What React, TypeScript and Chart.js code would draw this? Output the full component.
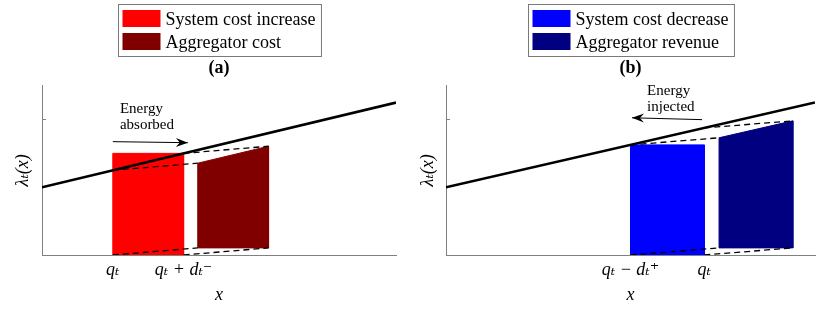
import { useEffect, useRef } from 'react';
import { Chart, registerables } from 'chart.js';

Chart.register(...registerables);

const SERIF = "'Liberation Serif', 'DejaVu Serif', serif";

// shared axes
const X_MIN = 0;
const X_MAX = 10;
const Y_MIN = 0;
const Y_MAX = 10;
const yTickValues = [8];
const xAxisLabel = 'x';
const yAxisLabel = 'λₜ(x)';

// marginal price curve λ_t(x)
const priceX = [0, 10];
const priceY = [4, 9];

// ---------- panel (a) ----------
const aTitle = '(a)';
const aLegendLabels = ['System cost increase', 'Aggregator cost'];
const aColors = ['#ff0000', '#800000'];
const aTickValues = [2, 4];
const aTickLabels = ['qₜ', 'qₜ + dₜ⁻'];
const aSystemX = [2, 2, 4, 4, 2];
const aSystemY = [0, 6, 6, 0, 0];
const aAggX = [4.4, 4.4, 6.4, 6.4, 4.4];
const aAggY = [0.42, 5.42, 6.42, 0.42, 0.42];
const aDashFromX = [2, 4, 2, 4];
const aDashFromY = [5, 6, 0, 0];
const aDashToX = [4.4, 6.4, 4.4, 6.4];
const aDashToY = [5.42, 6.42, 0.42, 0.42];
const aNoteLines = ['Energy', 'absorbed'];
const aNoteX = 2.2;
const aNoteY = 8.4;
const aArrowX = [2.0, 4.12];
const aArrowY = [6.69, 6.63];

// ---------- panel (b) ----------
const bTitle = '(b)';
const bLegendLabels = ['System cost decrease', 'Aggregator revenue'];
const bColors = ['#0000ff', '#000080'];
const bTickValues = [5, 7];
const bTickLabels = ['qₜ − dₜ⁺', 'qₜ'];
const bSystemX = [5, 5, 7, 7, 5];
const bSystemY = [0, 6.5, 6.5, 0, 0];
const bAggX = [7.4, 7.4, 9.4, 9.4, 7.4];
const bAggY = [0.42, 6.92, 7.92, 0.42, 0.42];
const bDashFromX = [5, 7, 5, 7];
const bDashFromY = [6.5, 7.5, 0, 0];
const bDashToX = [7.4, 9.4, 7.4, 9.4];
const bDashToY = [6.92, 7.92, 0.42, 0.42];
const bNoteLines = ['Energy', 'injected'];
const bNoteX = 5.45;
const bNoteY = 9.47;
const bArrowX = [6.94, 5.04];
const bArrowY = [7.99, 8.1];

type PanelDef = {
  title: string;
  legendLabels: string[];
  colors: string[];
  tickValues: number[];
  tickLabels: string[];
  sysX: number[];
  sysY: number[];
  aggX: number[];
  aggY: number[];
  dFromX: number[];
  dFromY: number[];
  dToX: number[];
  dToY: number[];
  noteLines: string[];
  noteX: number;
  noteY: number;
  arrowX: number[];
  arrowY: number[];
  yAxisWidth: number;
  padRight: number;
  yTitlePad: number;
};

const panels: PanelDef[] = [
  {
    title: aTitle, legendLabels: aLegendLabels, colors: aColors, tickValues: aTickValues, tickLabels: aTickLabels,
    sysX: aSystemX, sysY: aSystemY, aggX: aAggX, aggY: aAggY,
    dFromX: aDashFromX, dFromY: aDashFromY, dToX: aDashToX, dToY: aDashToY,
    noteLines: aNoteLines, noteX: aNoteX, noteY: aNoteY, arrowX: aArrowX, arrowY: aArrowY,
    yAxisWidth: 42, padRight: 19, yTitlePad: 12,
  },
  {
    title: bTitle, legendLabels: bLegendLabels, colors: bColors, tickValues: bTickValues, tickLabels: bTickLabels,
    sysX: bSystemX, sysY: bSystemY, aggX: bAggX, aggY: bAggY,
    dFromX: bDashFromX, dFromY: bDashFromY, dToX: bDashToX, dToY: bDashToY,
    noteLines: bNoteLines, noteX: bNoteX, noteY: bNoteY, arrowX: bArrowX, arrowY: bArrowY,
    yAxisWidth: 31, padRight: 15, yTitlePad: 2,
  },
];

const zip = (xs: number[], ys: number[]) => xs.map((x, i) => ({ x, y: ys[i] }));

const boxLegend = {
  id: 'boxLegend',
  afterDraw(chart: any, _args: any, opts: any) {
    const { ctx, chartArea } = chart;
    const labels: string[] = opts.labels;
    const colors: string[] = opts.colors;
    ctx.save();
    ctx.font = `18px ${SERIF}`;
    const tw = Math.max(...labels.map((l) => ctx.measureText(l).width));
    const sw = 38, sh = 17, padL = 4, gap = 5, padR = 6, padT = 6, rowH = 23, top = 4;
    const w = padL + sw + gap + tw + padR;
    const h = padT + rowH * (labels.length - 1) + sh + 6;
    const cx = (chartArea.left + chartArea.right) / 2;
    const x0 = Math.round(cx - w / 2) + 0.5;
    ctx.fillStyle = '#ffffff';
    ctx.fillRect(x0, top + 0.5, w, h);
    ctx.strokeStyle = '#7a7a7a';
    ctx.lineWidth = 1;
    ctx.strokeRect(x0, top + 0.5, w, h);
    labels.forEach((l, i) => {
      const ry = top + padT + i * rowH;
      ctx.fillStyle = colors[i];
      ctx.fillRect(x0 + padL, ry, sw, sh);
      ctx.fillStyle = '#000';
      ctx.textBaseline = 'alphabetic';
      ctx.textAlign = 'left';
      ctx.fillText(l, x0 + padL + sw + gap, ry + 15);
    });
    ctx.restore();
  },
};

const notes = {
  id: 'notes',
  afterDatasetsDraw(chart: any, _args: any, opts: any) {
    const { ctx, scales } = chart;
    const xs = scales.x;
    const ys = scales.y;
    ctx.save();
    // y tick marks (inside)
    ctx.strokeStyle = '#808080';
    ctx.lineWidth = 1;
    yTickValues.forEach((v) => {
      const py = Math.round(ys.getPixelForValue(v)) + 0.5;
      ctx.beginPath();
      ctx.moveTo(chart.chartArea.left, py);
      ctx.lineTo(chart.chartArea.left + 4, py);
      ctx.stroke();
    });
    // annotation text
    ctx.fillStyle = '#000';
    ctx.font = `15px ${SERIF}`;
    ctx.textAlign = 'left';
    ctx.textBaseline = 'alphabetic';
    const tx = xs.getPixelForValue(opts.noteX);
    const ty = ys.getPixelForValue(opts.noteY);
    (opts.noteLines as string[]).forEach((l, i) => ctx.fillText(l, tx, ty + i * 16));
    // arrow head
    const x1 = xs.getPixelForValue(opts.arrowX[0]);
    const y1 = ys.getPixelForValue(opts.arrowY[0]);
    const x2 = xs.getPixelForValue(opts.arrowX[1]);
    const y2 = ys.getPixelForValue(opts.arrowY[1]);
    const ang = Math.atan2(y2 - y1, x2 - x1);
    const L = 12, W = 4.5, N = 8;
    const ux = Math.cos(ang), uy = Math.sin(ang);
    const px = -uy, py = ux;
    ctx.beginPath();
    ctx.moveTo(x2, y2);
    ctx.lineTo(x2 - ux * L + px * W, y2 - uy * L + py * W);
    ctx.lineTo(x2 - ux * N, y2 - uy * N);
    ctx.lineTo(x2 - ux * L - px * W, y2 - uy * L - py * W);
    ctx.closePath();
    ctx.fill();
    ctx.restore();
  },
};

function Panel({ p }: { p: PanelDef }) {
  const ref = useRef<HTMLCanvasElement | null>(null);
  useEffect(() => {
    if (!ref.current) return;
    const datasets: any[] = [
      {
        label: p.legendLabels[0], data: zip(p.sysX, p.sysY), backgroundColor: p.colors[0], borderColor: p.colors[0],
        borderWidth: 1, fill: 'shape', order: 3,
      },
      {
        label: p.legendLabels[1], data: zip(p.aggX, p.aggY), backgroundColor: p.colors[1], borderColor: p.colors[1],
        borderWidth: 1, fill: 'shape', order: 3,
      },
      ...p.dFromX.map((fx, i) => ({
        label: 'dash' + i,
        data: [{ x: fx, y: p.dFromY[i] }, { x: p.dToX[i], y: p.dToY[i] }],
        borderColor: '#000', borderWidth: 1.3, borderDash: [6, 4], fill: false, order: 1,
      })),
      { label: 'λ', data: zip(priceX, priceY), borderColor: '#000', borderWidth: 2.6, fill: false, order: 0 },
      { label: 'arrow', data: zip(p.arrowX, p.arrowY), borderColor: '#000', borderWidth: 1, fill: false, order: 0 },
    ];
    const chart = new Chart(ref.current, {
      type: 'line',
      data: { datasets },
      plugins: [boxLegend, notes],
      options: {
        responsive: false,
        animation: false,
        events: [],
        layout: { padding: { left: 0, right: p.padRight, top: 58, bottom: 0 } },
        elements: { point: { radius: 0, hoverRadius: 0 }, line: { tension: 0 } },
        plugins: {
          legend: { display: false },
          tooltip: { enabled: false },
          title: {
            display: true, text: p.title, fullSize: false, color: '#000',
            font: { family: SERIF, size: 18, weight: 'bold' }, padding: { top: 0, bottom: 6 },
          },
          boxLegend: { labels: p.legendLabels, colors: p.colors },
          notes: { noteLines: p.noteLines, noteX: p.noteX, noteY: p.noteY, arrowX: p.arrowX, arrowY: p.arrowY },
        } as any,
        scales: {
          x: {
            type: 'linear', min: X_MIN, max: X_MAX,
            afterBuildTicks: (s: any) => { s.ticks = p.tickValues.map((v) => ({ value: v })); },
            afterFit: (s: any) => { s.height = 58; },
            grid: { display: false, drawTicks: false },
            border: { display: true, color: '#808080', width: 1 },
            ticks: {
              autoSkip: false, maxRotation: 0, padding: 4, color: '#000',
              font: { family: SERIF, size: 18, style: 'italic' },
              callback: (_v: any, i: number) => p.tickLabels[i],
            },
            title: {
              display: true, text: xAxisLabel, color: '#000',
              font: { family: SERIF, size: 18, style: 'italic' }, padding: { top: 0, bottom: 7 },
            },
          },
          y: {
            type: 'linear', min: Y_MIN, max: Y_MAX,
            afterFit: (s: any) => { s.width = p.yAxisWidth; },
            ticks: { display: false },
            grid: { display: false, drawTicks: false },
            border: { display: true, color: '#808080', width: 1 },
            title: {
              display: true, text: yAxisLabel, color: '#000',
              font: { family: SERIF, size: 18, style: 'italic' }, padding: { top: p.yTitlePad, bottom: 0 },
            },
          },
        } as any,
      },
    });
    return () => chart.destroy();
  }, [p]);
  return (
    <div style={{ width: 415, height: 313, position: 'relative' }}>
      <canvas ref={ref} width={415} height={313} style={{ display: 'block' }} />
    </div>
  );
}

export default function App() {
  return (
    <div style={{ position: 'fixed', left: 0, top: 0, width: 830, height: 313, display: 'flex', background: '#fff' }}>
      {panels.map((p, i) => (
        <Panel key={i} p={p} />
      ))}
    </div>
  );
}
